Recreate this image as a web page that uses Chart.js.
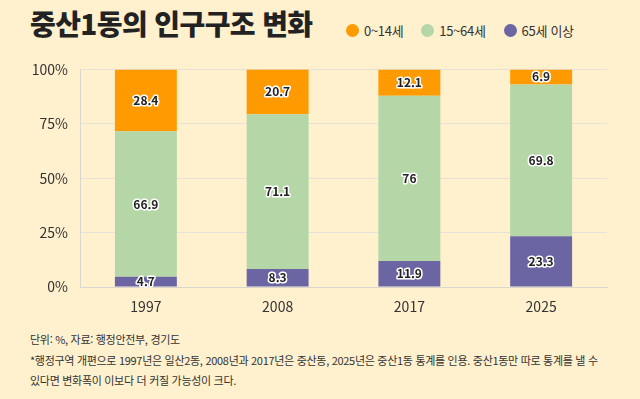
<!DOCTYPE html>
<html lang="ko">
<head>
<meta charset="utf-8">
<script src="https://cdn.jsdelivr.net/npm/chart.js@4"></script>
<style>
  body { margin: 0; width: 640px; height: 399px; background: #FFF0CE; font-family: "Noto Sans CJK KR", sans-serif; color: #222; position: relative; overflow: hidden; }
  h1 { position: absolute; left: 30px; top: 3px; margin: 0; font-size: 28px; font-weight: 900; letter-spacing: -0.6px; color: #222; }
  #legend { position: absolute; left: 346px; top: 21px; display: flex; font-size: 13px; color: #333; letter-spacing: -0.3px; }
  #legend span { display: flex; align-items: center; margin-right: 18px; }
  #legend i { display: inline-block; width: 13px; height: 13px; border-radius: 50%; margin-right: 5px; }
  #wrap { position: absolute; left: 0; top: 49px; width: 640px; height: 266px; }
  .note { position: absolute; left: 30px; font-size: 11px; color: #333; letter-spacing: -0.3px; white-space: nowrap; }
</style>
</head>
<body>
<h1>중산1동의 인구구조 변화</h1>
<div id="legend"></div>
<div id="wrap"><canvas id="myChart"></canvas></div>
<div class="note" style="top:331px">단위: %, 자료: 행정안전부, 경기도</div>
<div class="note" style="top:352px">*행정구역 개편으로 1997년은 일산2동, 2008년과 2017년은 중산동, 2025년은 중산1동 통계를 인용. 중산1동만 따로 통계를 낼 수</div>
<div class="note" style="top:372px">있다면 변화폭이 이보다 더 커질 가능성이 크다.</div>
<script>
const years = ["1997", "2008", "2017", "2025"];
const seriesNames = ["0~14세", "15~64세", "65세 이상"];
const seriesColors = ["#FF9A00", "#B5D6A7", "#6C65A3"];
const young = [28.4, 20.7, 12.1, 6.9];
const working = [66.9, 71.1, 76, 69.8];
const elderly = [4.7, 8.3, 11.9, 23.3];
const yTicks = [0, 25, 50, 75, 100];

// legend in the title line
const legend = document.getElementById("legend");
seriesNames.forEach((name, i) => {
  legend.innerHTML += `<span><i style="background:${seriesColors[i]}"></i>${name}</span>`;
});

// value labels in the middle of each segment
const barLabels = {
  id: "barLabels",
  afterDatasetsDraw(chart) {
    const ctx = chart.ctx;
    ctx.save();
    ctx.font = "bold 12px 'Noto Sans CJK KR'";
    ctx.textAlign = "center";
    ctx.textBaseline = "middle";
    ctx.lineJoin = "round";
    chart.data.datasets.forEach((ds, di) => {
      chart.getDatasetMeta(di).data.forEach((bar, i) => {
        const y = (bar.y + bar.base) / 2;
        const text = String(ds.data[i]);
        ctx.strokeStyle = "#fff";
        ctx.lineWidth = 3;
        ctx.strokeText(text, bar.x, y);
        ctx.fillStyle = "#222";
        ctx.fillText(text, bar.x, y);
      });
    });
    ctx.restore();
  },
};

new Chart(document.getElementById("myChart"), {
  type: "bar",
  data: {
    labels: years,
    datasets: [
      { label: seriesNames[2], data: elderly, backgroundColor: seriesColors[2] },
      { label: seriesNames[1], data: working, backgroundColor: seriesColors[1] },
      { label: seriesNames[0], data: young, backgroundColor: seriesColors[0] },
    ],
  },
  options: {
    animation: false,
    responsive: true,
    maintainAspectRatio: false,
    layout: { padding: { top: 6, right: 33, left: 0, bottom: 0 } },
    datasets: { bar: { categoryPercentage: 1, barPercentage: 0.47 } },
    plugins: { legend: { display: false }, tooltip: { enabled: false } },
    scales: {
      x: {
        stacked: true,
        grid: { display: false },
        border: { color: "#D9D6D0" },
        ticks: { color: "#333", font: { family: "Noto Sans CJK KR", size: 14 } },
        afterFit: (s) => { s.height = 28; },
      },
      y: {
        stacked: true,
        min: 0,
        max: 100,
        afterBuildTicks: (s) => { s.ticks = yTicks.map((v) => ({ value: v })); },
        grid: { color: "#E6E2DA", drawTicks: false },
        border: { color: "#D9D6D0" },
        ticks: {
          color: "#333",
          padding: 12,
          font: { family: "Noto Sans CJK KR", size: 14 },
          callback: (v) => v + "%",
        },
        afterFit: (s) => { s.width = 80; },
      },
    },
  },
  plugins: [barLabels],
});
</script>
</body>
</html>
